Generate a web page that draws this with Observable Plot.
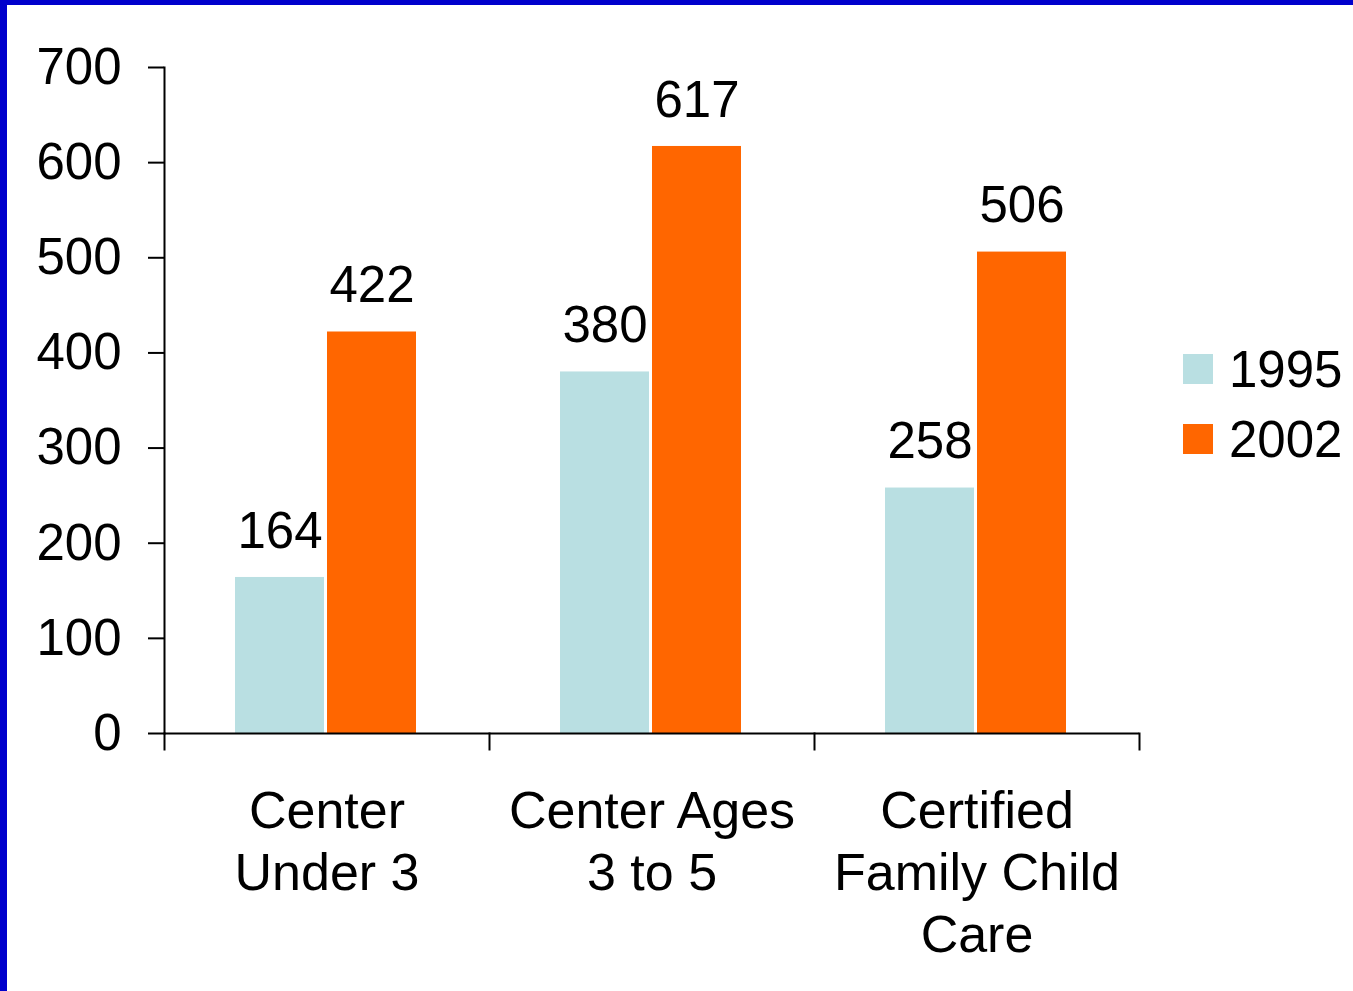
<!DOCTYPE html>
<html><head><meta charset="utf-8">
<script src="https://cdn.jsdelivr.net/npm/d3@7"></script>
<script src="https://cdn.jsdelivr.net/npm/@observablehq/plot@0.6"></script>
<style>
html,body{margin:0;padding:0;background:#fff;}
#wrap{position:relative;width:1353px;height:991px;overflow:hidden;font-family:"Liberation Sans",Arial,sans-serif;background:#fff;}
#wrap svg{position:absolute;left:0;top:0;}
.btop{position:absolute;left:0;top:0;width:1353px;height:5px;background:#0000cc;}
.bleft{position:absolute;left:0;top:0;width:7px;height:991px;background:#0000cc;}
#legend{position:absolute;left:1183px;top:334px;font-size:51px;color:#000;}
#legend .row{display:flex;align-items:center;height:70px;}
#legend .sw{width:30px;height:30px;margin-right:16px;}
</style>
</head><body>
<div id="wrap"><div class="btop"></div><div class="bleft"></div><div id="legend"></div></div>
<script>
const categories = ["Center Under 3", "Center Ages 3 to 5", "Certified Family Child Care"];
const categoryLabels = ["Center\nUnder 3", "Center Ages\n3 to 5", "Certified\nFamily Child\nCare"];
const years = ["1995", "2002"];
const values1995 = [164, 380, 258];
const values2002 = [422, 617, 506];
const yTicks = [0, 100, 200, 300, 400, 500, 600, 700];
const colors = ["#b9dfe2", "#ff6600"];

const data = [];
categories.forEach((c, i) => {
  data.push({cat: c, year: years[0], value: values1995[i]});
  data.push({cat: c, year: years[1], value: values2002[i]});
});
const labelOf = new Map(categories.map((c, i) => [c, categoryLabels[i]]));

const chart = Plot.plot({
  width: 1353,
  height: 991,
  marginLeft: 163,
  marginRight: 213,
  marginTop: 67,
  marginBottom: 258,
  style: {fontFamily: "'Liberation Sans', Arial, sans-serif", fontSize: "51px", color: "#000", background: "transparent", overflow: "visible"},
  fx: {domain: categories, padding: 0, label: null},
  x: {domain: years, paddingInner: 0.03, paddingOuter: 0.77, axis: null},
  y: {domain: [0, 700]},
  color: {domain: years, range: colors},
  marks: [
    Plot.barY(data, {fx: "cat", x: "year", y: "value", fill: "year", dx: -1}),
    Plot.ruleY([0], {strokeWidth: 2}),
    Plot.frame({anchor: "left", facetAnchor: "left", strokeWidth: 2}),
    Plot.frame({anchor: "left", insetTop: 666, insetBottom: -16, strokeWidth: 2}),
    Plot.frame({anchor: "right", facetAnchor: "right", insetTop: 666, insetBottom: -16, strokeWidth: 2}),
    Plot.axisY({ticks: yTicks, tickSize: 16, tickPadding: 27, strokeWidth: 2, label: null}),
    Plot.axisFx({anchor: "bottom", tickSize: 0, tickPadding: 51, fontSize: 52, lineHeight: 1.19, tickFormat: d => labelOf.get(d), label: null}),
    Plot.text(data, {fx: "cat", x: "year", y: "value", text: d => String(d.value), dx: -1, dy: -46, lineAnchor: "middle", fill: "#000"})
  ]
});
document.getElementById("wrap").prepend(chart);

const legend = document.getElementById("legend");
years.forEach((y, i) => {
  const row = document.createElement("div");
  row.className = "row";
  const sw = document.createElement("div");
  sw.className = "sw";
  sw.style.background = colors[i];
  const t = document.createElement("span");
  t.textContent = y;
  row.append(sw, t);
  legend.append(row);
});
</script>
</body></html>
